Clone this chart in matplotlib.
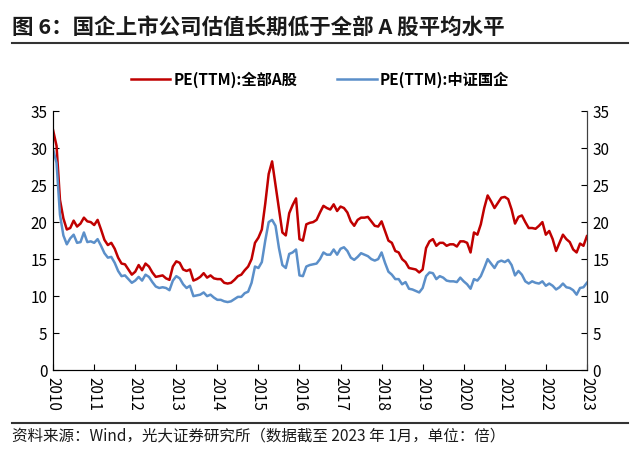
import matplotlib
matplotlib.use('Agg')
import matplotlib.pyplot as plt
import numpy as np

plt.rcParams['font.family'] = ['Noto Sans CJK SC', 'DejaVu Sans']

# 月度数据 2010-01 ~ 2023-01
pe_all_a = [
    32.4, 30.3, 23.0, 20.5, 19.0, 19.2, 20.2, 19.4, 19.8, 20.6, 20.1, 20.0,
    19.6, 20.3, 19.0, 17.6, 16.9, 17.2, 16.4, 15.2, 14.4, 14.3, 13.6, 12.9,
    13.3, 14.2, 13.5, 14.4, 14.0, 13.2, 12.6, 12.7, 12.8, 12.4, 12.2, 14.0,
    14.7, 14.5, 13.6, 13.4, 13.6, 12.1, 12.3, 12.6, 13.1, 12.5, 12.8, 12.4,
    12.3, 12.3, 11.8, 11.7, 11.8, 12.2, 12.7, 12.9, 13.5, 14.0, 15.0, 17.2,
    17.9, 19.0, 22.5, 26.5, 28.2, 25.0, 21.8, 18.6, 18.2, 21.2, 22.3, 23.2,
    17.7, 17.5, 19.7, 19.9, 20.0, 20.3, 21.3, 22.2, 21.9, 21.7, 22.4, 21.5,
    22.1, 21.9, 21.3, 20.1, 19.5, 20.3, 20.6, 20.6, 20.7, 20.1, 19.5, 19.4,
    20.1, 18.8, 17.5, 17.2, 16.1, 15.9, 15.0, 14.6, 13.8, 13.7, 13.6, 13.2,
    13.6, 16.5, 17.4, 17.7, 16.8, 17.2, 17.2, 16.8, 17.0, 17.0, 16.7, 17.4,
    17.4, 17.2, 15.9, 18.6, 18.3, 19.7, 21.9, 23.6, 22.8, 21.9, 22.6, 23.3,
    23.4, 23.1, 21.7, 19.8, 20.7, 20.9, 20.0, 19.2, 19.2, 19.1, 19.5, 20.0,
    18.3, 18.8, 17.7, 16.1, 17.2, 18.3, 17.7, 17.3, 16.3, 15.9, 17.1, 16.8,
    18.1,
]
pe_soe = [
    29.8, 28.0, 21.0, 18.2, 17.0, 17.8, 18.3, 17.2, 17.3, 18.6, 17.3, 17.4,
    17.2, 17.7, 16.8, 15.8, 15.2, 15.3, 14.5, 13.4, 12.7, 12.8, 12.3, 11.8,
    12.1, 12.6, 12.1, 12.9, 12.6, 11.9, 11.3, 11.1, 11.2, 11.1, 10.8, 12.1,
    12.7, 12.4, 11.6, 11.1, 11.4, 10.0, 10.1, 10.2, 10.5, 10.0, 10.2, 9.8,
    9.5, 9.5, 9.3, 9.2, 9.3, 9.6, 9.9, 9.9, 10.4, 10.6, 11.8, 14.0,
    13.8, 14.6, 17.5, 20.0, 20.3, 19.5, 16.5, 14.2, 13.8, 15.7, 15.9, 16.3,
    12.8, 12.7, 14.0, 14.2, 14.3, 14.4, 15.0, 15.9, 15.6, 15.6, 16.3, 15.6,
    16.4, 16.6, 16.1, 15.2, 14.9, 15.3, 15.8, 15.6, 15.4, 15.0, 14.8, 15.0,
    15.9, 14.5, 13.3, 12.9, 12.3, 12.3, 11.6, 11.9, 11.0, 10.9, 10.7, 10.5,
    11.1, 12.7, 13.2, 13.1, 12.3, 12.7, 12.5, 12.1, 12.0, 12.0, 11.9, 12.5,
    12.0, 11.6, 11.0, 12.3, 12.1, 12.7, 13.8, 15.0, 14.4, 13.8, 14.6, 14.8,
    14.6, 14.9, 14.2, 12.8, 13.4, 12.9, 12.0, 11.7, 12.0, 11.8, 11.7, 12.0,
    11.4, 11.7, 11.4, 10.9, 11.2, 11.7, 11.2, 11.1, 10.8, 10.2, 11.1, 11.2,
    11.8,
]
years = list(range(2010, 2024))
labels = ['PE(TTM):全部A股', 'PE(TTM):中证国企']

x = 2010 + np.arange(len(pe_all_a)) / 12

fig = plt.figure(figsize=(6.4, 4.57), dpi=100)
ax = fig.add_axes([0.083, 0.19, 0.834, 0.567])

red = '#C00000'
blue = '#5B8FC9'
l1, = ax.plot(x, pe_all_a, color=red, lw=1.8, label=labels[0])
l2, = ax.plot(x, pe_soe, color=blue, lw=1.8, label=labels[1])

ax.set_xlim(2010, 2023)
ax.set_ylim(0, 35)
ax.set_yticks(range(0, 36, 5))
ax.set_xticks(years)
ax.set_xticklabels([str(y) for y in years], rotation=270, fontsize=11)
ax.tick_params(axis='y', direction='in', labelsize=11, length=4, pad=4)
ax.tick_params(axis='x', direction='in', length=4, pad=5)
ax.spines['top'].set_visible(False)
for s in ['left', 'right', 'bottom']:
    ax.spines[s].set_color('#404040')

ax2 = ax.twinx()
ax2.set_ylim(0, 35)
ax2.set_yticks(range(0, 36, 5))
ax2.tick_params(axis='y', direction='in', labelsize=11, length=4, pad=4)
ax2.spines['top'].set_visible(False)
ax2.spines['right'].set_color('#404040')

fig.legend(handles=[l1, l2], loc='center', bbox_to_anchor=(0.5, 0.826), ncol=2,
           frameon=False, handlelength=2.6, columnspacing=2.6,
           handletextpad=0.2, prop={'weight': 'bold', 'size': 11})

fig.text(0.019, 0.941, '图 6：国企上市公司估值长期低于全部 A 股平均水平',
         fontsize=15.5, fontweight='bold', va='center', ha='left', color='#1a1a1a')
fig.add_artist(plt.Line2D([0.019, 0.981], [0.906, 0.906], color='#333333', lw=1.5))
fig.add_artist(plt.Line2D([0.019, 0.981], [0.074, 0.074], color='#333333', lw=1.5))
fig.text(0.019, 0.046, '资料来源：Wind，光大证券研究所（数据截至 2023 年 1月，单位：倍）',
         fontsize=11.2, va='center', ha='left', color='#1a1a1a')

plt.savefig('out.png', dpi=100)
